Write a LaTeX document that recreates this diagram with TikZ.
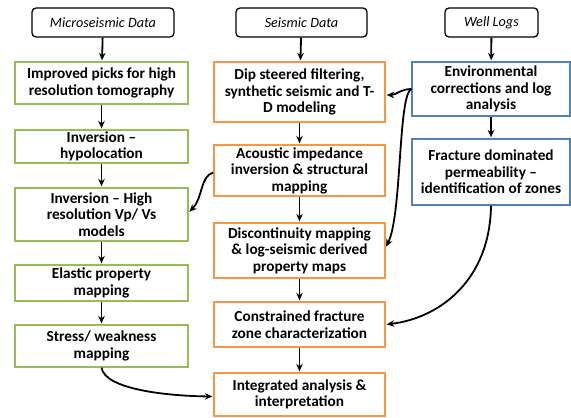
\documentclass[tikz,border=0pt]{standalone}
\usepackage{fontspec}
\setmainfont{Carlito}
\usetikzlibrary{arrows.meta, positioning}
\definecolor{msgreen}{HTML}{9BBB59}
\definecolor{seisorange}{HTML}{F79646}
\definecolor{wellblue}{HTML}{4F81BD}

\begin{document}
\begin{tikzpicture}[>={Stealth[length=7.5pt, width=6.5pt]}, x=1pt, y=-1pt,
  every node/.style={font=\fontsize{15.3}{16.5}\selectfont\bfseries, align=center, inner sep=0pt},
  hdr/.style={draw, line width=1.3pt, rounded corners=4pt, minimum height=29pt, font=\fontsize{14.2}{15}\selectfont\itshape},
  msbox/.style={draw=msgreen, line width=1.3pt, minimum width=173pt},
  sbox/.style={draw=seisorange, line width=1.3pt, minimum width=171pt},
  wbox/.style={draw=wellblue, line width=1.3pt, minimum width=158pt},
  flow/.style={->, line width=1.8pt, shorten >=1pt}]

  \useasboundingbox (0,0) rectangle (571,418);

  % Headers
  \node[hdr, minimum width=142pt] (msdata) at (103,22.5) {Microseismic Data};
  \node[hdr, minimum width=131pt] (sdata) at (301.5,22.5) {Seismic Data};
  \node[hdr, minimum width=93pt] (wlogs) at (491.5,22.5) {Well Logs};

  % Microseismic column
  \node[msbox, minimum height=42pt] (picks) at (101.5,83) {Improved picks for high\\resolution tomography};
  \node[msbox, minimum height=33pt] (hypo) at (101.5,146.5) {Inversion --\\hypolocation};
  \node[msbox, minimum height=53pt] (vpvs) at (101.5,214.5) {Inversion -- High\\resolution Vp/ Vs\\models};
  \node[msbox, minimum height=36pt] (elastic) at (101.5,283) {Elastic property\\mapping};
  \node[msbox, minimum height=42pt] (stress) at (101.5,346) {Stress/ weakness\\mapping};

  % Seismic column
  \node[sbox, minimum height=60pt] (dip) at (299.5,92) {Dip steered filtering,\\synthetic seismic and T-\\D modeling};
  \node[sbox, minimum height=51pt] (acoustic) at (299.5,170.5) {Acoustic impedance\\inversion \& structural\\mapping};
  \node[sbox, minimum height=55pt] (discont) at (299.5,250.5) {Discontinuity mapping\\\& log-seismic derived\\property maps};
  \node[sbox, minimum height=45pt] (fraczone) at (299.5,324.5) {Constrained fracture\\zone characterization};
  \node[sbox, minimum height=43pt] (integ) at (299.5,394.5) {Integrated analysis \&\\interpretation};

  % Well log column
  \node[wbox, minimum height=54pt] (envcorr) at (491,89) {Environmental\\corrections and log\\analysis};
  \node[wbox, minimum height=66pt] (permeab) at (491,172) {Fracture dominated\\permeability --\\identification of zones};

  % Straight arrows
  \draw[flow] (msdata) -- (picks);
  \draw[flow] (picks) -- (hypo);
  \draw[flow] (hypo) -- (vpvs);
  \draw[flow] (vpvs) -- (elastic);
  \draw[flow] (elastic) -- (stress);
  \draw[flow] (sdata) -- (dip);
  \draw[flow] (dip) -- (acoustic);
  \draw[flow] (acoustic) -- (discont);
  \draw[flow] (discont) -- (fraczone);
  \draw[flow] (fraczone) -- (integ);
  \draw[flow] (wlogs) -- (envcorr);
  \draw[flow] (envcorr) -- (permeab);

  % Curved arrows
  \draw[flow] (envcorr.west) to[out=180, in=0] ([yshift=-3pt]dip.east);
  \draw[flow] (envcorr.west) .. controls (398,95) and (402,215) .. ([yshift=3pt]discont.east);
  \draw[flow] ([yshift=-2pt]acoustic.west) .. controls (200,176) and (203,198) .. ([yshift=2pt]vpvs.east);
  \draw[flow] (permeab.south) .. controls (490,280) and (440,318) .. (fraczone.east);
  \draw[flow] (stress.south) .. controls (105,390) and (170,396) .. ([yshift=-2pt]integ.west);

\end{tikzpicture}
\end{document}
